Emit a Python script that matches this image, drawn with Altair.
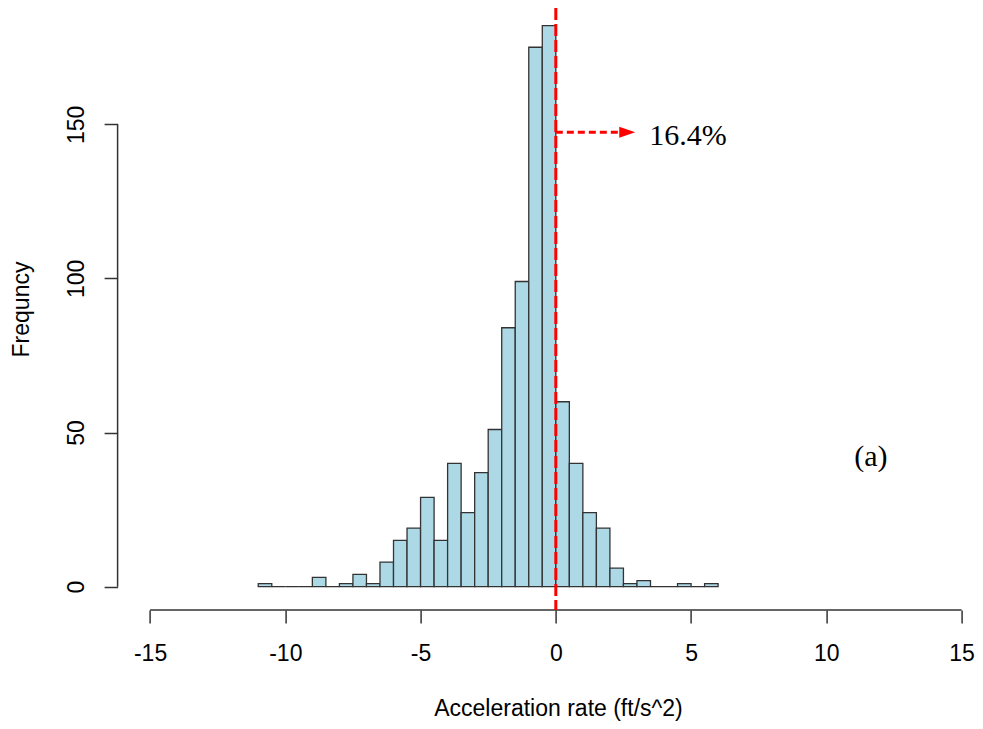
import altair as alt
import pandas as pd

# ---- data (bin width 0.5) ----
bin_left = [-11.0, -10.5, -10.0, -9.5, -9.0, -8.5, -8.0, -7.5, -7.0, -6.5,
            -6.0, -5.5, -5.0, -4.5, -4.0, -3.5, -3.0, -2.5, -2.0, -1.5,
            -1.0, -0.5, 0.0, 0.5, 1.0, 1.5, 2.0, 2.5, 3.0, 3.5,
            4.0, 4.5, 5.0, 5.5]
bin_right = [-10.5, -10.0, -9.5, -9.0, -8.5, -8.0, -7.5, -7.0, -6.5, -6.0,
             -5.5, -5.0, -4.5, -4.0, -3.5, -3.0, -2.5, -2.0, -1.5, -1.0,
             -0.5, 0.0, 0.5, 1.0, 1.5, 2.0, 2.5, 3.0, 3.5, 4.0,
             4.5, 5.0, 5.5, 6.0]
counts = [1, 0, 0, 0, 3, 0, 1, 4, 1, 8,
          15, 19, 29, 15, 40, 24, 37, 51, 84, 99,
          175, 182, 60, 40, 24, 19, 6, 1, 2, 0,
          0, 1, 0, 1]

x_ticks = [-15, -10, -5, 0, 5, 10, 15]
y_ticks = [0, 50, 100, 150]
x_title = "Acceleration rate (ft/s^2)"
y_title = "Frequncy"

threshold = [0.0]
arrow_x = [0.0, 2.35]
arrow_head_x = [2.64]
arrow_y = [147.4]
pct_text = ["16.4%"]
pct_pos = [3.45, 143.3]
panel_text = ["(a)"]
panel_pos = [11.65, 39.2]

x_domain = [-16.2, 15.478]
y_domain = [-7.56, 187.73]

SANS = "Liberation Sans"
SERIF = "Liberation Serif"
AX = "#333333"

xs = alt.Scale(domain=x_domain, nice=False, zero=False)
ys = alt.Scale(domain=y_domain, nice=False, zero=False)

x_axis = alt.Axis(
    values=x_ticks, domain=False, grid=False,
    tickSize=13, tickColor=AX, tickWidth=1.5,
    labelFont=SANS, labelFontSize=23, labelColor="black",
    labelBaseline="alphabetic", labelPadding=37,
    labelFlush=False, labelOverlap=False, labelBound=False,
    labelExpr="datum.value + ''",
    title=x_title, titleFont=SANS, titleFontSize=23, titleFontWeight="normal",
    titleColor="black", titleX=440.4, titleY=105,
    titleAlign="center", titleBaseline="alphabetic",
)
y_axis = alt.Axis(
    values=y_ticks, domain=False, grid=False,
    tickSize=13.5, tickColor=AX, tickWidth=1.5,
    labelFont=SANS, labelFontSize=23, labelColor="black",
    labelAngle=270, labelAlign="center", labelBaseline="alphabetic",
    labelPadding=20.5, labelFlush=False, labelOverlap=False, labelBound=False,
    labelExpr="datum.value + ''",
    title=y_title, titleFont=SANS, titleFontSize=23, titleFontWeight="normal",
    titleColor="black", titleAngle=270, titleX=-89, titleY=301,
    titleAlign="center", titleBaseline="alphabetic",
)


def X(field):
    return alt.X(field, scale=xs, axis=x_axis)


def Y(field):
    return alt.Y(field, scale=ys, axis=y_axis)


hist_df = pd.DataFrame({"lo": bin_left, "hi": bin_right, "n": counts,
                        "z": [0] * len(counts)})

bars = alt.Chart(hist_df).mark_rect(
    fill="#ADD8E6", stroke=AX, strokeWidth=1.3
).encode(x=X("lo:Q"), x2="hi:Q", y=Y("n:Q"), y2="z:Q")

# axis lines spanning only the tick range (R style)
xline = alt.Chart(pd.DataFrame({"a": [x_ticks[0]], "b": [x_ticks[-1]],
                                "y": [y_domain[0]]})).mark_rule(
    color=AX, strokeWidth=1.5
).encode(x=X("a:Q"), x2="b:Q", y=Y("y:Q"))

yline = alt.Chart(pd.DataFrame({"x": [x_domain[0]], "a": [y_ticks[0]],
                                "b": [y_ticks[-1]]})).mark_rule(
    color=AX, strokeWidth=1.5
).encode(x=X("x:Q"), y=Y("a:Q"), y2="b:Q")

vline = alt.Chart(pd.DataFrame({"x": threshold})).mark_rule(
    color="#FF0000", strokeWidth=3, strokeDash=[12, 4]
).encode(x=X("x:Q"))

arrow_line = alt.Chart(pd.DataFrame({"a": [arrow_x[0]], "b": [arrow_x[1]],
                                     "y": arrow_y})).mark_rule(
    color="#FF0000", strokeWidth=3, strokeDash=[7, 4]
).encode(x=X("a:Q"), x2="b:Q", y=Y("y:Q"))

arrow_head = alt.Chart(pd.DataFrame({"x": arrow_head_x, "y": arrow_y})).mark_point(
    shape="M-1,-0.69L1,0L-1,0.69Z", size=256, filled=True,
    color="#FF0000", opacity=1, strokeWidth=0
).encode(x=X("x:Q"), y=Y("y:Q"))

pct = alt.Chart(pd.DataFrame({"x": [pct_pos[0]], "y": [pct_pos[1]],
                              "t": pct_text})).mark_text(
    font=SERIF, fontSize=30, align="left", baseline="alphabetic", color="black"
).encode(x=X("x:Q"), y=Y("y:Q"), text="t:N")

panel = alt.Chart(pd.DataFrame({"x": [panel_pos[0]], "y": [panel_pos[1]],
                                "t": panel_text})).mark_text(
    font=SERIF, fontSize=30, align="center", baseline="alphabetic", color="black"
).encode(x=X("x:Q"), y=Y("y:Q"), text="t:N")

chart = alt.layer(
    bars, xline, yline, vline, arrow_line, arrow_head, pct, panel
).properties(
    width=856.9, height=602,
    autosize=alt.AutoSizeParams(type="none"),
    padding={"left": 109.6, "top": 0, "right": 0, "bottom": 111},
    background="white",
).configure_view(stroke=None)

chart.save("out.html", embed_options={"renderer": "svg", "actions": False})
